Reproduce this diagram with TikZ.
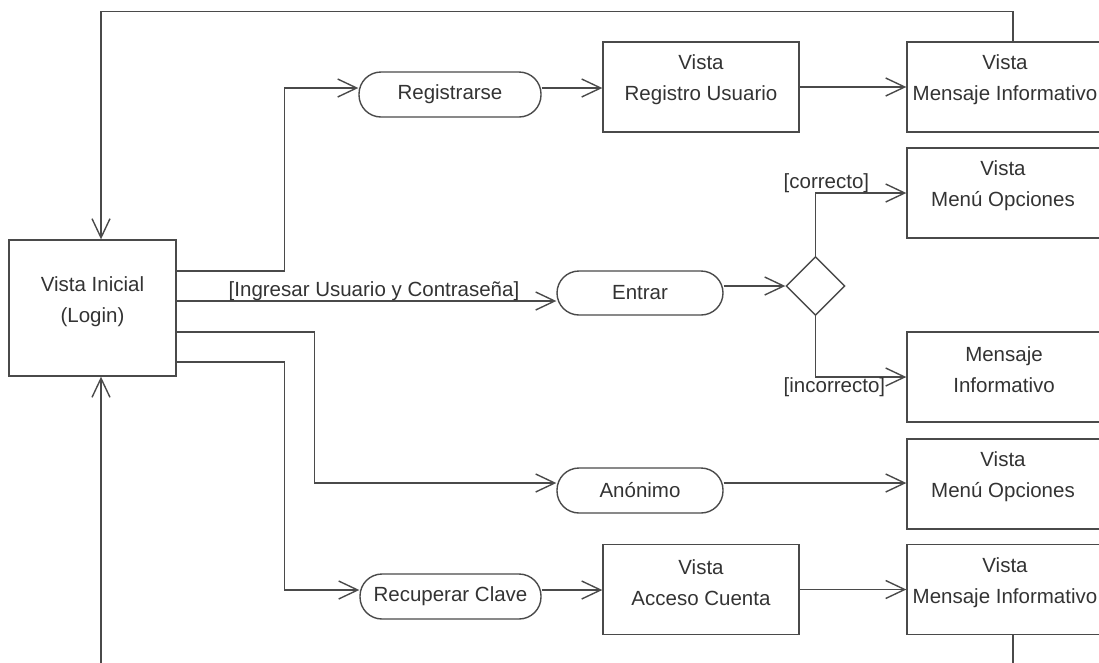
\documentclass[tikz,border=0pt]{standalone}
\usepackage{fontspec}
\setmainfont{Liberation Sans}
\usetikzlibrary{arrows.meta,shapes.geometric}
\definecolor{ln}{HTML}{4A4A4A}
\definecolor{tx}{HTML}{333333}
\begin{document}
\begin{tikzpicture}[x=1pt,y=-1pt,
  every node/.style={font=\fontsize{20.5pt}{31pt}\selectfont, text=tx},
  box/.style={draw=ln, line width=1.4pt, rectangle, minimum width=196pt, minimum height=90pt, inner sep=0pt},
  widebox/.style={box, minimum width=230pt},
  pill/.style={draw=ln, line width=1.4pt, rectangle, rounded corners=22pt, inner sep=0pt, minimum height=45pt},
  dec/.style={draw=ln, line width=1.4pt, diamond, minimum width=59pt, minimum height=59pt, inner sep=0pt},
  txt/.style={align=center, inner sep=0pt},
  lbl/.style={inner sep=0pt},
  flow/.style={draw=ln, line width=1.4pt, -{Straight Barb[length=19pt,width=18pt]}},
]
\useasboundingbox (0,0) rectangle (1099,662);
\clip (0,0) rectangle (1099,662);

% states and actions
\node[box, minimum width=167pt, minimum height=136pt] (ini) at (92.5,308) {};
\node[txt] (ini-t) at ([yshift=6pt]ini.center) {Vista Inicial\\(Login)};

\node[pill, minimum width=182pt] (reg) at (450,94.5) {Registrarse};
\node[box] (vru) at (701,87) {};
\node[txt] (vru-t) at ([yshift=7pt]vru.center) {Vista\\Registro Usuario};
\node[widebox] (mi1) at (1022,87) {};
\node[txt] (mi1-t) at (1005,80) {Vista\\Mensaje Informativo};

\node[pill, minimum width=166pt, minimum height=44pt] (ent) at (640,293) {Entrar};
\node[dec] (dia) at (815.5,286) {};
\node[widebox] (mo1) at (1022,193) {};
\node[txt] (mo1-t) at (1003,186) {Vista\\Menú Opciones};
\node[widebox] (mi2) at (1022,377) {};
\node[txt] (mi2-t) at (1004,370) {Mensaje\\Informativo};

\node[pill, minimum width=166pt] (ano) at (640,490.5) {Anónimo};
\node[widebox] (mo2) at (1022,484) {};
\node[txt] (mo2-t) at (1003,477) {Vista\\Menú Opciones};

\node[pill, minimum width=181pt] (rc) at (450.5,596.5) {Recuperar Clave};
\node[box] (vac) at (701,589.5) {};
\node[txt] (vac-t) at ([yshift=7pt]vac.center) {Vista\\Acceso Cuenta};
\node[widebox] (mi3) at (1022,589.5) {};
\node[txt] (mi3-t) at (1005,582.5) {Vista\\Mensaje Informativo};

% transitions
\draw[flow] ([yshift=37pt]ini.east) -- ++(108,0) |- ([yshift=6.5pt]reg.west);
\draw[flow] ([yshift=6.5pt]reg.east) -- ([yshift=6.5pt]reg.east -| vru.west);
\draw[flow] (vru.east) -- (mi1.west);
\draw[flow] ([xshift=-9pt]mi1.north) -- ++(0,-30) -| ([xshift=8.5pt]ini.north);

\draw[flow] ([yshift=7pt]ini.east) -- ([yshift=7pt]ini.east -| ent.west)
  node[lbl, midway, anchor=south, xshift=7.5pt] {[Ingresar Usuario y Contraseña]};
\draw[flow] ([yshift=7pt]ent.east) -- (dia.west);
\draw[flow] (dia.north) |- (mo1.west)
  node[lbl, pos=0.5, anchor=south west, xshift=-32.5pt] {[correcto]};
\draw[flow] (dia.south) |- (mi2.west)
  node[lbl, pos=0.5, anchor=north west, xshift=-32.5pt] {[incorrecto]};

\draw[flow] ([yshift=-24pt]ini.east) -- ++(138,0) |- ([yshift=7.5pt]ano.west);
\draw[flow] ([yshift=7.5pt]ano.east) -- ([yshift=7.5pt]ano.east -| mo2.west);

\draw[flow] ([yshift=-54pt]ini.east) -- ++(108,0) |- ([yshift=6.5pt]rc.west);
\draw[flow] ([yshift=6.5pt]rc.east) -- ([yshift=6.5pt]rc.east -| vac.west);
\draw[flow] (vac.east) -- (mi3.west);
\draw[flow] ([xshift=-9pt]mi3.south) -- ++(0,60) -| ([xshift=8.5pt]ini.south);
\end{tikzpicture}
\end{document}
